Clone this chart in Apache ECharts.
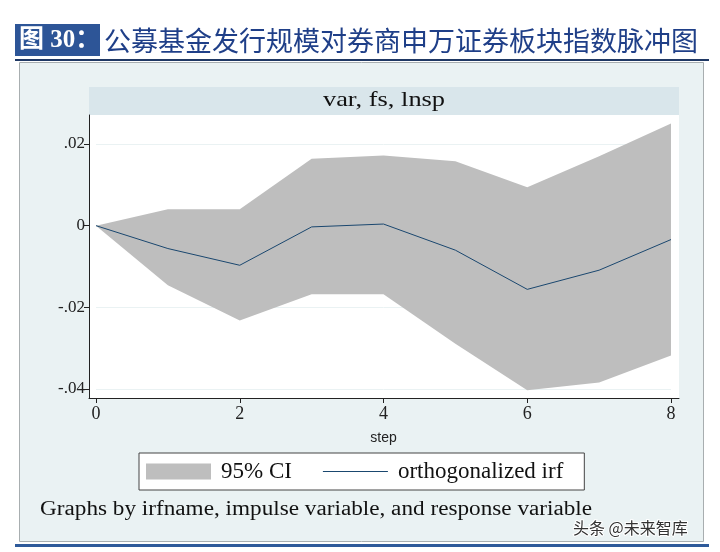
<!DOCTYPE html>
<html>
<head>
<meta charset="utf-8">
<script src="https://cdn.jsdelivr.net/npm/echarts@6/dist/echarts.min.js"></script>
<style>html,body{margin:0;padding:0;background:#fff;}#c{width:720px;height:552px;}</style>
</head>
<body>
<div id="c"></div>
<script>
// ---- data ----
var steps = [0, 1, 2, 3, 4, 5, 6, 7, 8];
var ciUpper = [0, 0.0040, 0.0040, 0.0164, 0.0172, 0.0158, 0.0094, 0.0170, 0.0250];
var ciLower = [0, -0.0146, -0.0232, -0.0168, -0.0168, -0.0289, -0.0403, -0.0384, -0.0318];
var irf = [0, -0.0056, -0.0097, -0.0003, 0.0004, -0.0060, -0.0156, -0.0109, -0.0034];
var xTicks = [0, 2, 4, 6, 8];
var yTickLabels = {"0.02": ".02", "0": "0", "-0.02": "-.02", "-0.04": "-.04"};
var titleTag = "图 30：";
var titleText = "公募基金发行规模对券商申万证券板块指数脉冲图";
var panelTitle = "var, fs, lnsp";
var xName = "step";
var ciName = "95% CI";
var irfName = "orthogonalized irf";
var note = "Graphs by irfname, impulse variable, and response variable";
var watermark = "头条 @未来智库";

var serif = "Liberation Serif, Times New Roman, serif";
var ciColor = '#BEBEBE';
var irfColor = '#1A476F';

var bandData = steps.map(function (s, i) { return [s, ciUpper[i], ciLower[i]]; });
var irfData = steps.map(function (s, i) { return [s, irf[i]]; });

function renderBand(params, api) {
  if (params.dataIndex !== 0) return null;
  var pts = [];
  for (var i = 0; i < steps.length; i++) pts.push(api.coord([steps[i], ciUpper[i]]));
  for (var j = steps.length - 1; j >= 0; j--) pts.push(api.coord([steps[j], ciLower[j]]));
  return {type: 'polygon', shape: {points: pts}, style: {fill: ciColor, stroke: null}};
}

var chart = echarts.init(document.getElementById('c'), null, {renderer: 'canvas'});
var option = {
  animation: false,
  backgroundColor: '#ffffff',
  graphic: [
    // panel
    {type: 'rect', z: -10, shape: {x: 19.5, y: 62.5, width: 684, height: 479}, style: {fill: '#EAF2F3', stroke: '#A8AEB0', lineWidth: 1}},
    // header band
    {type: 'rect', z: -5, shape: {x: 89, y: 87, width: 590, height: 28}, style: {fill: '#D9E6EB'}},
    {type: 'text', z: 5, x: 384, y: 100, scaleX: 1.2, style: {x: 0, y: 0, text: panelTitle, fill: '#111', font: '22px ' + serif, textAlign: 'center', textVerticalAlign: 'middle'}},
    // title
    {type: 'rect', shape: {x: 15, y: 24, width: 85, height: 32}, style: {fill: '#2D5597'}},
    {type: 'text', style: {x: 19, y: 41, text: titleTag, fill: '#fff', font: 'bold 25px Liberation Serif, Noto Sans CJK SC', textVerticalAlign: 'middle'}},
    {type: 'text', style: {x: 104, y: 41, text: titleText, fill: '#1F3F88', font: '27px Noto Sans CJK SC', textVerticalAlign: 'middle'}},
    {type: 'rect', shape: {x: 15, y: 59, width: 694, height: 2}, style: {fill: '#1F3864'}},
    // bottom
    {type: 'rect', shape: {x: 15, y: 544, width: 694, height: 3}, style: {fill: '#2E5A9A'}},
    {type: 'text', x: 40, y: 510, scaleX: 1.16, style: {x: 0, y: 0, text: note, fill: '#111', font: '20px ' + serif, textVerticalAlign: 'middle'}},
    {type: 'text', z: 20, style: {x: 573, y: 528, text: watermark, fill: '#333', font: '16px Noto Sans CJK SC', textVerticalAlign: 'middle', stroke: '#fff', lineWidth: 2}}
  ],
  legend: {
    left: 139, top: 453,
    orient: 'horizontal',
    padding: [7, 21, 7, 7],
    itemGap: 31,
    itemWidth: 65, itemHeight: 16,
    backgroundColor: '#fff',
    borderColor: '#444', borderWidth: 1, borderRadius: 0,
    textStyle: {fontFamily: serif, fontSize: 23, color: '#111', padding: [0, 0, 0, 5]},
    data: [
      {name: ciName, icon: 'rect', itemStyle: {color: ciColor}},
      {name: irfName, icon: 'path://M0,0L65,0L65,1L0,1Z', itemStyle: {color: irfColor}}
    ],
    selectedMode: false
  },
  grid: [
    {left: 89, top: 115, width: 590, height: 283, show: true, backgroundColor: '#fff', borderWidth: 0, z: -1},
    {left: 96, top: 144, width: 575, height: 245}
  ],
  xAxis: [
    {gridIndex: 0, type: 'value', min: 0, max: 1, axisLine: {show: true, onZero: false, lineStyle: {color: '#222', width: 1}}, axisTick: {show: false}, axisLabel: {show: false}, splitLine: {show: false}},
    {gridIndex: 1, type: 'value', min: 0, max: 8, interval: 2, offset: 9,
      axisLine: {show: false, onZero: false}, axisTick: {show: true, length: 5, lineStyle: {color: '#222'}},
      axisLabel: {fontFamily: serif, fontSize: 18, color: '#222', margin: 7,
        formatter: function (v) { return xTicks.indexOf(v) >= 0 ? String(v) : ''; }},
      splitLine: {show: false},
      name: xName, nameLocation: 'middle', nameGap: 33,
      nameTextStyle: {fontFamily: 'Liberation Sans Narrow, Liberation Sans, Arial', fontSize: 14, color: '#222'}}
  ],
  yAxis: [
    {gridIndex: 0, type: 'value', min: 0, max: 1, axisLine: {show: true, onZero: false, lineStyle: {color: '#222', width: 1}}, axisTick: {show: false}, axisLabel: {show: false}, splitLine: {show: false}},
    {gridIndex: 1, type: 'value', min: -0.04, max: 0.02, interval: 0.02, offset: 7,
      axisLine: {show: false, onZero: false}, axisTick: {show: true, length: 5, lineStyle: {color: '#222'}},
      axisLabel: {fontFamily: serif, fontSize: 17, color: '#222', margin: 4,
        formatter: function (v) { var k = String(+v.toFixed(2)); return yTickLabels[k] !== undefined ? yTickLabels[k] : k; }},
      splitLine: {show: true, lineStyle: {color: '#EAF2F3', width: 1}}}
  ],
  series: [
    {name: ciName, type: 'custom', xAxisIndex: 1, yAxisIndex: 1, data: bandData,
      encode: {x: 0, y: [1, 2]}, renderItem: renderBand, itemStyle: {color: ciColor}, clip: false, silent: true, z: 1},
    {name: irfName, type: 'line', xAxisIndex: 1, yAxisIndex: 1, data: irfData,
      symbol: 'none', itemStyle: {color: irfColor}, lineStyle: {color: irfColor, width: 1}, clip: false, z: 3}
  ]
};
chart.setOption(option);
</script>
</body>
</html>
